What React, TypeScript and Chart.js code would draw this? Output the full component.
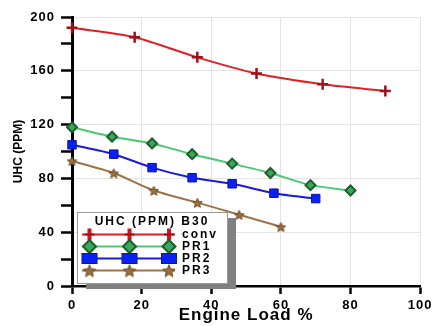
import { useEffect, useRef } from "react";
import { Chart, registerables } from "chart.js";
import { drawPoint } from "chart.js/helpers";

Chart.register(...registerables);

// Engine load (%) and unburnt hydrocarbons (ppm) for each configuration
const convLoad = [0, 18, 36, 53, 72, 90];
const convUhc = [192, 185, 170, 158, 150, 145];
const pr1Load = [0, 11.5, 23, 34.5, 46, 57, 68.5, 80];
const pr1Uhc = [118, 111, 106, 98, 91, 84, 75, 71];
const pr2Load = [0, 12, 23, 34.5, 46, 58, 70];
const pr2Uhc = [105, 98, 88, 80.5, 76, 69, 65];
const pr3Load = [0, 12, 23.5, 36, 48, 60];
const pr3Uhc = [93, 84, 71, 62, 53, 44];

const seriesNames = ["conv", "PR1", "PR2", "PR3"];
const legendTitle = "UHC (PPM) B30";
const xTitle = "Engine Load %";
const yTitle = "UHC (PPM)";

const FONT = "'Liberation Sans', Arial, sans-serif";

function pairs(xs: number[], ys: number[]) {
  return xs.map((x, i) => ({ x, y: ys[i] }));
}

// filled five-point star used as a point style
function makeStar(size: number, fill: string, stroke: string) {
  const c = document.createElement("canvas");
  c.width = size;
  c.height = size;
  const g = c.getContext("2d")!;
  const cx = size / 2;
  const cy = size / 2 + size * 0.06;
  const R = size / 2 - 0.5;
  const r = R * 0.45;
  g.beginPath();
  for (let i = 0; i < 10; i++) {
    const a = -Math.PI / 2 + (i * Math.PI) / 5;
    const rad = i % 2 ? r : R;
    g.lineTo(cx + rad * Math.cos(a), cy + rad * Math.sin(a));
  }
  g.closePath();
  g.fillStyle = fill;
  g.fill();
  g.strokeStyle = stroke;
  g.lineWidth = 1;
  g.stroke();
  return c;
}

export default function App() {
  const ref = useRef<HTMLCanvasElement | null>(null);

  useEffect(() => {
    const canvas = ref.current;
    if (!canvas) return;

    const starSmall = makeStar(11, "#9a6e3e", "#6e4a22");
    const starLegend = makeStar(14, "#9a6e3e", "#6e4a22");

    const styles = [
      { line: "#e02020", fill: "#d01818", border: "#a01018", point: "cross", radius: 5.5, legendRadius: 7, bw: 2.5 },
      { line: "#4cc872", fill: "#3aa85a", border: "#1c5e2c", point: "rectRot", radius: 5, legendRadius: 6.5, bw: 2 },
      { line: "#1818e0", fill: "#0a22f0", border: "#0a14b0", point: "rect", radius: 6, legendRadius: 9.5, bw: 1 },
      { line: "#9c7448", fill: "#9a6e3e", border: "#6e4a22", point: starSmall as any, radius: 6, legendRadius: 7.5, bw: 1 },
    ];
    const seriesData = [
      pairs(convLoad, convUhc),
      pairs(pr1Load, pr1Uhc),
      pairs(pr2Load, pr2Uhc),
      pairs(pr3Load, pr3Uhc),
    ];

    // wide lettering for the axis text
    const spacingPlugin = {
      id: "wideText",
      beforeDraw(chart: any) {
        chart.ctx.letterSpacing = "1px";
      },
    };

    // rotated y-axis title
    const yTitlePlugin = {
      id: "yTitle",
      afterDraw(chart: any) {
        const { ctx, chartArea } = chart;
        ctx.save();
        ctx.letterSpacing = "0px";
        ctx.translate(18, (chartArea.top + chartArea.bottom) / 2);
        ctx.rotate(-Math.PI / 2);
        ctx.scale(1, 1.12);
        ctx.fillStyle = "#000";
        ctx.font = `bold 12px ${FONT}`;
        ctx.textAlign = "center";
        ctx.textBaseline = "middle";
        ctx.fillText(yTitle, 0, 0);
        ctx.restore();
      },
    };

    const legendPlugin = {
      id: "boxLegend",
      afterDraw(chart: any) {
        const { ctx, chartArea } = chart;
        const x = chartArea.left + 5;
        const y = chartArea.top + 195;
        const w = 150;
        const h = 71;
        ctx.save();
        ctx.fillStyle = "#808080";
        ctx.fillRect(x + 9, y + 6, w, h);
        ctx.fillStyle = "#ffffff";
        ctx.fillRect(x, y, w, h);
        ctx.strokeStyle = "#9a9a9a";
        ctx.lineWidth = 1;
        ctx.strokeRect(x + 0.5, y + 0.5, w, h);

        ctx.letterSpacing = "2px";
        ctx.fillStyle = "#000";
        ctx.font = `bold 12px ${FONT}`;
        ctx.textAlign = "center";
        ctx.textBaseline = "middle";
        ctx.fillText(legendTitle, x + 75, y + 10);

        const rowY = [22.5, 34.5, 46.5, 58.5];
        const markX = [12.5, 52.5, 92];
        seriesNames.forEach((name, i) => {
          const s = styles[i];
          const yy = y + rowY[i];
          ctx.strokeStyle = s.line;
          ctx.lineWidth = 2;
          ctx.beginPath();
          ctx.moveTo(x + 5, yy);
          ctx.lineTo(x + 98, yy);
          ctx.stroke();
          markX.forEach((mx) => {
            ctx.fillStyle = s.fill;
            ctx.strokeStyle = s.border;
            ctx.lineWidth = s.bw;
            if (i === 3) {
              ctx.drawImage(starLegend, x + mx - 7, yy - 7);
            } else if (i === 0) {
              ctx.fillRect(x + mx - 2, yy - 6, 4, 12);
              ctx.lineWidth = 2;
              ctx.beginPath();
              ctx.moveTo(x + mx - 5, yy);
              ctx.lineTo(x + mx + 5, yy);
              ctx.stroke();
            } else if (i === 2) {
              ctx.fillRect(x + mx - 7.5, yy - 5, 15, 10);
              ctx.strokeRect(x + mx - 7.5, yy - 5, 15, 10);
            } else {
              drawPoint(ctx, { pointStyle: s.point, radius: s.legendRadius, rotation: 0, borderWidth: s.bw } as any, x + mx, yy);
            }
          });
          ctx.fillStyle = "#000";
          ctx.font = `bold 12px ${FONT}`;
          ctx.textAlign = "left";
          ctx.fillText(name, x + 105, yy + 0.5);
        });
        ctx.restore();
      },
    };

    const chart = new Chart(canvas, {
      type: "line",
      data: {
        datasets: seriesNames.map((name, i) => ({
          label: name,
          data: seriesData[i],
          borderColor: styles[i].line,
          backgroundColor: styles[i].fill,
          pointBackgroundColor: styles[i].fill,
          pointBorderColor: styles[i].border,
          pointBorderWidth: styles[i].bw,
          pointStyle: styles[i].point,
          pointRadius: styles[i].radius,
          borderWidth: 2,
          tension: 0.25,
          clip: false as any,
          fill: false,
        })),
      },
      options: {
        animation: false,
        responsive: false,
        devicePixelRatio: 1,
        layout: { padding: { top: 17, right: 12, left: 0, bottom: 0 } },
        plugins: {
          legend: { display: false },
          tooltip: { enabled: false },
        },
        scales: {
          x: {
            type: "linear",
            min: 0,
            max: 100,
            ticks: {
              stepSize: 20,
              color: "#000",
              font: { family: FONT, size: 13, weight: "bold" },
              padding: 4,
              maxRotation: 0,
            },
            grid: {
              color: "#e4e4e4",
              lineWidth: 1,
              tickLength: 8,
              tickColor: "#000",
              tickWidth: 2.5,
            },
            border: { color: "#000", width: 2.5 },
            title: {
              display: true,
              text: xTitle,
              color: "#000",
              font: { family: FONT, size: 17, weight: "bold" },
              padding: { top: 0, bottom: 0 },
            },
            afterFit(scale: any) {
              scale.height = 40;
            },
          },
          y: {
            type: "linear",
            min: 0,
            max: 200,
            ticks: {
              stepSize: 20,
              color: "#000",
              font: { family: FONT, size: 13, weight: "bold" },
              padding: 6,
              callback: (v: any) => (Number(v) % 40 === 0 ? String(v) : ""),
            },
            grid: {
              color: (c: any) => (c.tick && c.tick.value % 40 === 0 ? "#e4e4e4" : "rgba(0,0,0,0)"),
              lineWidth: 1,
              tickLength: 11,
              tickColor: "#000",
              tickWidth: 2.5,
            },
            border: { color: "#000", width: 3 },
            afterFit(scale: any) {
              scale.width = 72;
            },
          },
        },
      } as any,
      plugins: [spacingPlugin, yTitlePlugin, legendPlugin],
    });

    return () => chart.destroy();
  }, []);

  return (
    <div style={{ position: "fixed", left: 0, top: 0, width: 435, height: 326, background: "#fff" }}>
      <canvas ref={ref} width={435} height={326} style={{ display: "block" }} />
    </div>
  );
}
